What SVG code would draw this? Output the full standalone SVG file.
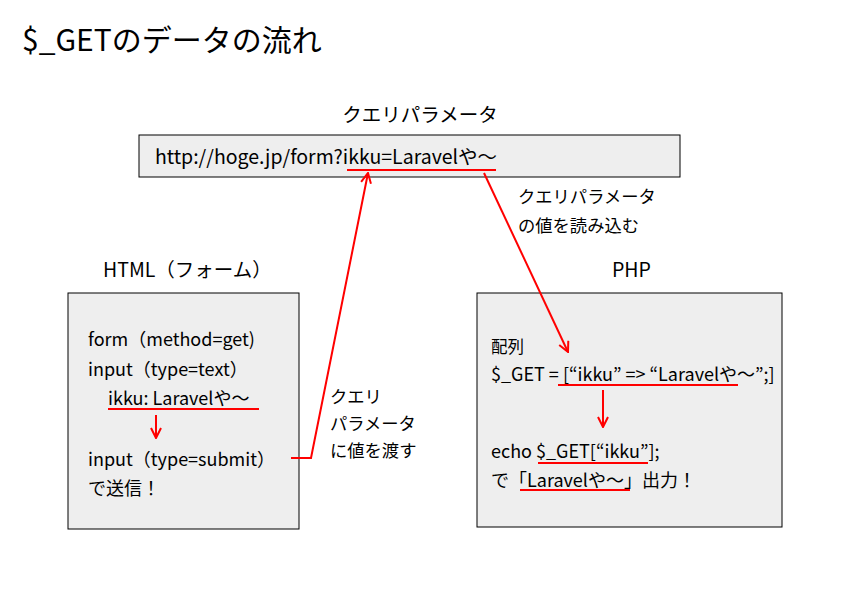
<svg xmlns="http://www.w3.org/2000/svg" width="842" height="595" viewBox="0 0 842 595">
<style>
text{font-family:"Noto Sans CJK JP","Noto Sans",sans-serif;fill:#000;font-size:18px}
.box{fill:#eeeeee;stroke:#000;stroke-width:1}
.r{stroke:#f00;stroke-width:2;fill:none}
.h{font-size:19.5px}
.s{font-size:17.3px}
</style>
<defs><marker id="a" viewBox="0 0 12 12" refX="11" refY="6" markerWidth="12" markerHeight="12" markerUnits="userSpaceOnUse" orient="auto"><path d="M1,1 L11,6 L1,11" fill="none" stroke="#f00" stroke-width="2"/></marker></defs>
<rect width="842" height="595" fill="#fff"/>
<text x="22" y="51" style="font-size:30px">$_GETのデータの流れ</text>
<g id="url"><text class="h" x="420" y="122" text-anchor="middle">クエリパラメータ</text>
<rect class="box" x="139" y="135" width="541" height="42"/>
<text x="155" y="164" style="font-size:19.5px">http://hoge.jp/form?ikku=Laravelや～</text></g>
<g id="html"><text class="h" x="103" y="277">HTML（フォーム）</text>
<rect class="box" x="68" y="293" width="231" height="236"/>
<text x="88" y="346">form（method=get)</text>
<text x="88" y="376">input（type=text）</text>
<text x="108" y="405">ikku: Laravelや～</text>
<text x="88" y="466">input（type=submit）</text>
<text x="88" y="495">で送信！</text></g>
<g id="php"><text class="h" x="612" y="277">PHP</text>
<rect class="box" x="477" y="293" width="305" height="234"/>
<text x="491" y="353" style="font-size:16.5px">配列</text>
<text x="491" y="381">$_GET = [“ikku” =&gt; “Laravelや～”;]</text>
<text x="491" y="458">echo $_GET[“ikku”];</text>
<text x="491" y="487">で「Laravelや～」出力！</text></g>
<g id="labels">
<text class="s" x="518" y="203">クエリパラメータ</text>
<text class="s" x="518" y="232">の値を読み込む</text>
<text class="s" x="330" y="403">クエリ</text>
<text class="s" x="330" y="430">パラメータ</text>
<text class="s" x="330" y="457">に値を渡す</text></g>
<g id="connectors">
<line class="r" x1="347" y1="170" x2="496" y2="170"/>
<line class="r" x1="108" y1="409" x2="259" y2="409"/>
<line class="r" x1="558" y1="385" x2="738" y2="385"/>
<line class="r" x1="538" y1="463" x2="648" y2="463"/>
<line class="r" x1="520" y1="490" x2="630" y2="490"/>
<path class="r" d="M291,458 H311 L368,173" marker-end="url(#a)"/>
<line class="r" x1="484" y1="173" x2="568" y2="352" marker-end="url(#a)"/>
<line class="r" x1="156" y1="415" x2="156" y2="438" marker-end="url(#a)"/>
<line class="r" x1="603" y1="390" x2="603" y2="427" marker-end="url(#a)"/>
</g>
</svg>
